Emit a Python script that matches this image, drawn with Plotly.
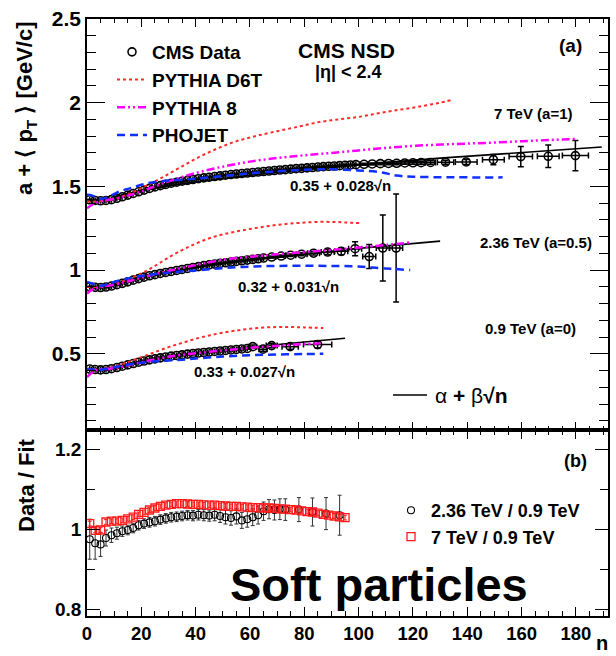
import plotly.graph_objects as go

# ---------------- data ----------------
# top panel: a + <pT> vs n  (values already include offset a)
n7 = list(range(1, 100, 2)) + [102, 105, 108, 111, 114, 117, 120, 123, 126.5, 132, 139.6, 149.6, 159.7, 169.8, 179.8]
pt7 = [1.420, 1.416, 1.414, 1.416, 1.421, 1.429, 1.438, 1.448, 1.458, 1.468,
       1.478, 1.488, 1.497, 1.505, 1.512, 1.519, 1.525, 1.531, 1.536, 1.541,
       1.546, 1.551, 1.555, 1.559, 1.563, 1.567, 1.571, 1.574, 1.577, 1.580,
       1.583, 1.586, 1.589, 1.592, 1.595, 1.598, 1.600, 1.603, 1.606, 1.608,
       1.611, 1.613, 1.616, 1.618, 1.620, 1.622, 1.624, 1.626, 1.628, 1.630,
       1.632, 1.634, 1.636, 1.637, 1.638, 1.640, 1.641, 1.642, 1.643, 1.645,
       1.646, 1.660, 1.678, 1.680, 1.684]
ey7 = [0.003] * 50 + [0.006, 0.006, 0.007, 0.007, 0.008, 0.008, 0.009, 0.009, 0.010, 0.012,
                      0.015, 0.030, 0.060, 0.067, 0.090]
ex7 = [0] * 50 + [1.5, 1.5, 1.5, 1.5, 1.5, 1.5, 1.5, 1.5, 1.8, 3, 4, 4, 4.3, 4, 4.8]

n236 = list(range(1, 66, 2)) + [68, 71.5, 75, 79, 83.4, 88.6, 93.6, 98.7, 103.9, 108.9, 113.8]
pt236 = [0.900, 0.897, 0.896, 0.899, 0.905, 0.913, 0.921, 0.930, 0.940, 0.949,
         0.958, 0.966, 0.973, 0.980, 0.986, 0.992, 0.998, 1.004, 1.010, 1.016,
         1.021, 1.027, 1.032, 1.036, 1.040, 1.044, 1.048, 1.052, 1.056, 1.060,
         1.064, 1.068, 1.072,
         1.078, 1.084, 1.089, 1.095, 1.101, 1.108, 1.112, 1.128, 1.081, 1.132, 1.132]
ey236 = [0.003] * 33 + [0.006, 0.007, 0.008, 0.009, 0.010, 0.015, 0.020, 0.042, 0.072, 0.197, 0.323]
ex236 = [0] * 33 + [1.5, 1.5, 1.8, 2, 2.2, 2.4, 2.4, 2.4, 2.4, 2.4, 2.4]

n09 = list(range(1, 60, 2)) + [61, 64.8, 68, 74.8, 84.9]
pt09 = [0.409, 0.406, 0.404, 0.406, 0.411, 0.418, 0.426, 0.434, 0.442, 0.450,
        0.457, 0.464, 0.470, 0.476, 0.481, 0.486, 0.490, 0.494, 0.498, 0.502,
        0.505, 0.508, 0.511, 0.514, 0.517, 0.520, 0.523, 0.526, 0.529, 0.532,
        0.543, 0.528, 0.549, 0.543, 0.555]
ey09 = [0.003] * 30 + [0.010, 0.012, 0.012, 0.015, 0.020]
ex09 = [0] * 30 + [1.5, 1.5, 2, 3, 5.2]

# fit curves (alpha + beta*sqrt(n))
fit7_n = [10, 20, 30, 40, 60, 80, 100, 130, 160, 189.5]
fit7_y = [1.439, 1.475, 1.503, 1.527, 1.567, 1.600, 1.630, 1.669, 1.704, 1.735]
fit236_n = [10, 20, 30, 40, 60, 80, 100, 130]
fit236_y = [0.918, 0.959, 0.990, 1.016, 1.060, 1.097, 1.130, 1.173]
fit09_n = [10, 20, 30, 40, 50, 60, 70, 80, 95]
fit09_y = [0.415, 0.451, 0.478, 0.501, 0.521, 0.539, 0.556, 0.571, 0.593]

# PYTHIA D6T
d6t7_n = [0, 5, 10, 15, 20, 25, 30, 35, 40, 45, 50, 55, 60, 65, 70, 75, 80, 85, 90, 95, 100, 105, 110, 115, 120, 125, 130, 134]
d6t7_y = [1.41, 1.412, 1.425, 1.452, 1.49, 1.53, 1.574, 1.62, 1.665, 1.705, 1.74, 1.77, 1.792, 1.812, 1.83, 1.847,
          1.865, 1.883, 1.895, 1.905, 1.915, 1.93, 1.945, 1.958, 1.97, 1.985, 2.0, 2.015]
d6t236_n = [0, 5, 10, 15, 20, 25, 30, 35, 40, 45, 50, 55, 60, 65, 70, 75, 80, 85, 90, 95, 101]
d6t236_y = [0.90, 0.90, 0.915, 0.945, 0.98, 1.025, 1.075, 1.12, 1.158, 1.19, 1.213, 1.231, 1.246, 1.259, 1.27,
            1.278, 1.284, 1.288, 1.288, 1.285, 1.28]
d6t09_n = [0, 5, 10, 15, 20, 25, 30, 35, 40, 45, 50, 55, 60, 65, 70, 75, 80, 87]
d6t09_y = [0.41, 0.41, 0.425, 0.45, 0.48, 0.51, 0.54, 0.565, 0.59, 0.61, 0.626, 0.639, 0.65, 0.657, 0.66, 0.66,
           0.658, 0.654]

# PYTHIA 8
p87_n = [0, 3, 6, 10, 15, 20, 25, 30, 35, 40, 50, 60, 70, 80, 90, 100, 110, 120, 130, 140, 150, 160, 170, 180]
p87_y = [1.37, 1.40, 1.415, 1.425, 1.445, 1.47, 1.5, 1.53, 1.556, 1.58, 1.618, 1.648, 1.670, 1.686, 1.70, 1.715,
         1.73, 1.742, 1.75, 1.756, 1.762, 1.77, 1.777, 1.784]
p8236_n = [0, 2, 5, 10, 15, 20, 30, 40, 50, 60, 70, 80, 90, 100, 110, 119]
p8236_y = [0.86, 0.885, 0.9, 0.912, 0.932, 0.955, 0.995, 1.03, 1.062, 1.08, 1.095, 1.108, 1.12, 1.135, 1.15, 1.165]
p809_n = [0, 2, 4, 8, 12, 16, 20, 25, 30, 35, 40, 45, 50, 55, 60, 70, 80, 86]
p809_y = [0.36, 0.39, 0.405, 0.41, 0.42, 0.435, 0.45, 0.467, 0.482, 0.494, 0.503, 0.512, 0.52, 0.528, 0.536,
          0.548, 0.558, 0.563]

# PHOJET
pho7_n = [0, 2, 5, 8, 12, 16, 20, 25, 30, 35, 40, 50, 60, 70, 80, 90, 100, 108, 114, 120, 130, 140, 153]
pho7_y = [1.45, 1.445, 1.425, 1.44, 1.47, 1.49, 1.51, 1.527, 1.535, 1.54, 1.546, 1.562, 1.578, 1.59, 1.60, 1.602,
          1.595, 1.585, 1.565, 1.558, 1.555, 1.554, 1.554]
pho236_n = [0, 2, 4, 7, 10, 15, 20, 30, 40, 50, 60, 70, 80, 90, 100, 105, 112, 119]
pho236_y = [0.93, 0.92, 0.905, 0.912, 0.93, 0.95, 0.965, 0.985, 0.998, 1.012, 1.021, 1.025, 1.026, 1.025, 1.022,
            1.015, 1.008, 1.0]
pho09_n = [0, 5, 10, 15, 20, 25, 30, 35, 40, 50, 60, 70, 80, 87]
pho09_y = [0.41, 0.405, 0.42, 0.435, 0.447, 0.455, 0.46, 0.465, 0.472, 0.484, 0.492, 0.496, 0.499, 0.5]

# bottom panel: Data / Fit ratios
r236_n = list(range(1, 74, 2)) + [78, 83, 88, 93]
r236_y = [0.975, 0.965, 0.962, 0.978, 0.985, 0.990, 0.995, 0.998, 1.003, 1.010,
          1.014, 1.017, 1.020, 1.024, 1.027, 1.030, 1.031, 1.033, 1.035, 1.034,
          1.036, 1.035, 1.034, 1.036, 1.033, 1.030, 1.028, 1.032, 1.022, 1.025,
          1.030, 1.035, 1.045, 1.050, 1.048, 1.050, 1.049,
          1.049, 1.043, 1.039, 1.035]
r236_e = [0.05, 0.04, 0.03, 0.02, 0.018, 0.015, 0.013, 0.012, 0.012, 0.012,
          0.012, 0.012, 0.012, 0.012, 0.012, 0.012, 0.012, 0.012, 0.012, 0.013,
          0.013, 0.014, 0.014, 0.015, 0.016, 0.017, 0.018, 0.019, 0.020, 0.020,
          0.021, 0.022, 0.023, 0.024, 0.025, 0.026, 0.027,
          0.030, 0.035, 0.040, 0.050]
r7_n = list(range(1, 96, 2))
r7_y = [1.014, 0.997, 0.998, 1.018, 1.020, 1.020, 1.022, 1.026, 1.030, 1.037,
        1.042, 1.048, 1.053, 1.057, 1.060, 1.062, 1.064, 1.064, 1.063, 1.062,
        1.062, 1.061, 1.060, 1.060, 1.059, 1.058, 1.057, 1.057, 1.056, 1.055,
        1.054, 1.054, 1.053, 1.053, 1.052, 1.051, 1.050, 1.049, 1.048, 1.046,
        1.044, 1.043, 1.040, 1.037, 1.035, 1.033, 1.031, 1.029]
r7_e = [0.006] * 48

x_ticks = [0, 20, 40, 60, 80, 100, 120, 140, 160, 180]

# ---------------- figure ----------------
FONT = "Liberation Sans"
W, H = 616, 656
ML, MR, MT, MB = 87, 8, 19, 40
PW, PH = W - ML - MR, H - MT - MB
SPLIT = (H - MB - 430) / PH


def px(xp):
    return (xp - ML) / PW


def py(yp):
    return (H - MB - yp) / PH


fig = go.Figure()

RED = "#ff2a2a"
MAG = "#ff00ff"
BLUE = "#1030ff"

# fits
for fn, fy in [(fit7_n, fit7_y), (fit236_n, fit236_y), (fit09_n, fit09_y)]:
    fig.add_trace(go.Scatter(x=fn, y=fy, mode="lines", line=dict(color="black", width=1.6),
                             xaxis="x2", yaxis="y2", showlegend=False, hoverinfo="skip"))

# data
for i, (dn, dy, dey, dex) in enumerate([(n7, pt7, ey7, ex7), (n236, pt236, ey236, ex236), (n09, pt09, ey09, ex09)]):
    fig.add_trace(go.Scatter(
        x=dn, y=dy, mode="markers", name="CMS Data",
        marker=dict(symbol="circle-open", size=8, color="black", line=dict(width=1.6)),
        error_y=dict(type="data", array=dey, color="black", thickness=1.5, width=3),
        error_x=dict(type="data", array=dex, color="black", thickness=1.5, width=3),
        xaxis="x2", yaxis="y2", showlegend=(i == 0), legend="legend"))

# models
for i, (mn, my) in enumerate([(d6t7_n, d6t7_y), (d6t236_n, d6t236_y), (d6t09_n, d6t09_y)]):
    fig.add_trace(go.Scatter(x=mn, y=my, mode="lines", name="PYTHIA D6T",
                             line=dict(color=RED, width=2, dash="dot", shape="spline"),
                             xaxis="x2", yaxis="y2", showlegend=(i == 0), legend="legend"))
for i, (mn, my) in enumerate([(p87_n, p87_y), (p8236_n, p8236_y), (p809_n, p809_y)]):
    fig.add_trace(go.Scatter(x=mn, y=my, mode="lines", name="PYTHIA 8",
                             line=dict(color=MAG, width=2.5, dash="8px,3px,2px,3px,2px,3px", shape="spline"),
                             xaxis="x2", yaxis="y2", showlegend=(i == 0), legend="legend"))
for i, (mn, my) in enumerate([(pho7_n, pho7_y), (pho236_n, pho236_y), (pho09_n, pho09_y)]):
    fig.add_trace(go.Scatter(x=mn, y=my, mode="lines", name="PHOJET",
                             line=dict(color=BLUE, width=2.5, dash="8px,5px", shape="spline"),
                             xaxis="x2", yaxis="y2", showlegend=(i == 0), legend="legend"))

# ratio panel
fig.add_trace(go.Scatter(
    x=r236_n, y=r236_y, mode="markers", name="2.36 TeV / 0.9 TeV",
    marker=dict(symbol="circle-open", size=7, color="black", line=dict(width=1.1)),
    error_y=dict(type="data", array=r236_e, color="#333333", thickness=1, width=2),
    xaxis="x", yaxis="y", legend="legend2"))
fig.add_trace(go.Scatter(
    x=r7_n, y=r7_y, mode="markers", name="7 TeV / 0.9 TeV",
    marker=dict(symbol="square-open", size=8, color="#ff1a1a", line=dict(width=1.3)),
    error_y=dict(type="data", array=r7_e, color="#ff1a1a", thickness=1, width=2),
    xaxis="x", yaxis="y", legend="legend2"))

tickfont = lambda s: dict(family=FONT, size=s, color="black", weight="bold")
axline = dict(showline=True, linecolor="black", linewidth=1.6, mirror="ticks", ticks="inside",
              tickcolor="black", showgrid=False, zeroline=False)

fig.update_layout(
    width=W, height=H, plot_bgcolor="white", paper_bgcolor="white",
    margin=dict(l=ML, r=MR, t=MT, b=MB, autoexpand=False),
    xaxis=dict(domain=[0, 1], anchor="y", range=[0, 191.8], tickvals=x_ticks, ticklen=9, tickwidth=1.4,
               minor=dict(dtick=5, tick0=0, ticklen=5, ticks="inside", tickwidth=1.1, tickcolor="black"),
               tickfont=tickfont(18.5), **axline),
    xaxis2=dict(domain=[0, 1], anchor="y2", matches="x", range=[0, 191.8], tickvals=x_ticks,
                showticklabels=False, ticklen=8, tickwidth=1.4,
                minor=dict(dtick=5, tick0=0, ticklen=4, ticks="inside", tickwidth=1.1, tickcolor="black"),
                **axline),
    yaxis=dict(domain=[0, SPLIT], anchor="x", range=[0.783, 1.248], tick0=0, dtick=0.2, ticklen=13,
               tickwidth=1.4,
               minor=dict(dtick=0.1, tick0=0, ticklen=8, ticks="inside", tickwidth=1.1, tickcolor="black"),
               tickfont=tickfont(19), **axline),
    yaxis2=dict(domain=[SPLIT, 1], anchor="x2", range=[0.045, 2.5], tick0=0, dtick=0.5, ticklen=18,
                tickwidth=1.4,
                minor=dict(dtick=0.1, tick0=0, ticklen=9, ticks="inside", tickwidth=1.1, tickcolor="black"),
                tickfont=tickfont(21), **axline),
    legend=dict(x=px(112), y=py(33), xanchor="left", yanchor="top", bgcolor="rgba(0,0,0,0)",
                font=dict(family=FONT, size=19, color="black", weight="bold"), itemwidth=30,
                tracegroupgap=0),
    legend2=dict(x=px(391), y=py(492), xanchor="left", yanchor="top", bgcolor="rgba(0,0,0,0)",
                 font=dict(family=FONT, size=18, color="black", weight="bold"), itemwidth=30,
                 tracegroupgap=0),
)

anns = [
    ("CMS NSD", 346.7, 50, 21, True),
    ("|η| < 2.4", 348, 71.7, 18, True),
    ("(a)", 570, 45, 19, True),
    ("7 TeV (a=1)", 533, 113, 15, True),
    ("2.36 TeV (a=0.5)", 536, 242.7, 15, True),
    ("0.9 TeV (a=0)", 530, 328.3, 15, True),
    ("0.35 + 0.028√n", 340, 185, 15, True),
    ("0.32 + 0.031√n", 288, 286.7, 15, True),
    ("0.33 + 0.027√n", 244.5, 371.7, 15, True),
    ("(b)", 575, 461, 18, True),
    ("Soft particles", 379, 584, 47, True),
    ("n", 601.7, 643, 20, True),
]
for t, xc, yc, s, b in anns:
    fig.add_annotation(text=t, x=px(xc), y=py(yc), xref="paper", yref="paper", showarrow=False,
                       xanchor="center", yanchor="middle",
                       font=dict(family=FONT, size=s, color="black", weight="bold" if b else "normal"))

fig.add_annotation(text="α <b>+</b> β<b>√n</b>", x=px(433), y=py(395), xref="paper", yref="paper",
                   showarrow=False, xanchor="left", yanchor="middle",
                   font=dict(family=FONT, size=21, color="black"))
fig.add_shape(type="line", xref="paper", yref="paper", x0=px(393), x1=px(427), y0=py(395), y1=py(395),
              line=dict(color="black", width=1.6))

fig.add_annotation(text="a + ⟨ p<sub>T</sub> ⟩ [GeV/c]", x=px(26), y=py(108), xref="paper", yref="paper",
                   showarrow=False, textangle=-90, xanchor="center", yanchor="middle",
                   font=dict(family=FONT, size=22, color="black", weight="bold"))
fig.add_annotation(text="Data / Fit", x=px(26), y=py(485), xref="paper", yref="paper",
                   showarrow=False, textangle=-90, xanchor="center", yanchor="middle",
                   font=dict(family=FONT, size=22, color="black", weight="bold"))

fig.write_html("out.html")
